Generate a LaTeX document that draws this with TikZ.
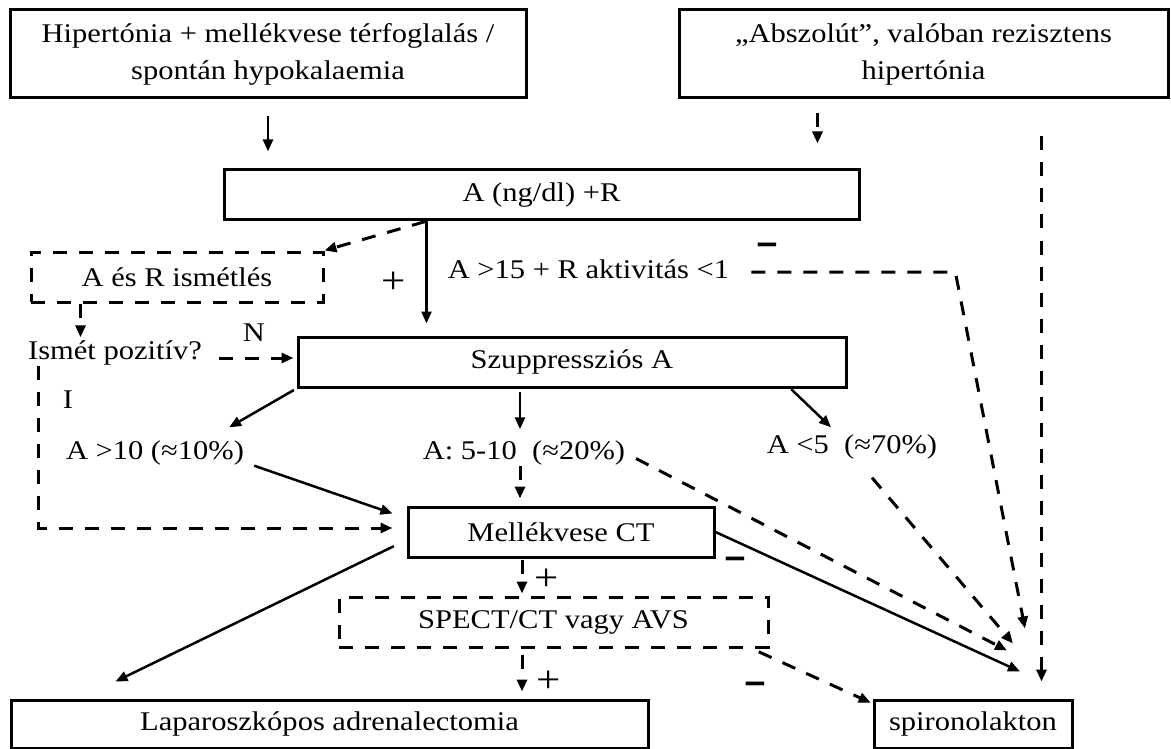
\documentclass[tikz,border=0pt]{standalone}
\usepackage{fontspec}
\setmainfont{Liberation Serif}[FakeStretch=1.13]
\newfontfamily\barfont{DejaVu Sans}[FakeStretch=1.35]
\usetikzlibrary{arrows.meta}

\begin{document}
\begin{tikzpicture}[x=1pt,y=-1pt,
  every node/.style={font=\fontsize{27}{37}\selectfont},
  box/.style={draw,line width=3pt,inner sep=0pt,align=center,minimum height=50pt},
  dbox/.style={box,dash pattern=on 14pt off 12pt},
  lbl/.style={inner sep=0pt,text height=19pt,text depth=6pt},
  sgn/.style={inner sep=0pt,font=\fontsize{38}{38}\selectfont},
  neg/.style={inner sep=0pt,font=\barfont\fontsize{22}{22}\selectfont},
  arr/.style={line width=2.5pt,-{Triangle[length=12pt,width=10pt]}},
  darr/.style={arr,line width=3pt,dash pattern=on 14pt off 12pt}]
  \useasboundingbox (0,0) rectangle (1171,749);
  \node[box,minimum width=516pt,minimum height=88pt] (hyper) at (268,54) {Hipertónia + mellékvese térfoglalás /\\spontán hypokalaemia};
  \node[box,minimum width=489pt,minimum height=88pt] (abszol) at (923.5,54) {„Abszolút”, valóban rezisztens\\hipertónia};
  \node[box,minimum width=635pt] (ar) at (541.5,195) {A (ng/dl) +R};
  \node[dbox,minimum width=292pt] (ism) at (177,277) {A és R ismétlés};
  \node[lbl] (ar15) at (588.5,272) {A >15 + R aktivitás <1};
  \node[lbl] (ismpoz) at (115,353) {Ismét pozitív?};
  \node[box,minimum width=548pt] (szupp) at (572,362) {Szuppressziós A};
  \node[lbl] (a10) at (155,453) {A >10 (≈10\%)};
  \node[lbl] (a510) at (524,453) {A: 5-10~~(≈20\%)};
  \node[lbl] (a5) at (852,447) {A <5~~(≈70\%)};
  \node[box,minimum width=306pt] (mct) at (561,532) {Mellékvese CT};
  \node[dbox,minimum width=429pt] (spect) at (553.5,622) {SPECT/CT vagy AVS};
  \node[box,minimum width=637pt,minimum height=48pt] (lap) at (329.5,724) {Laparoszkópos adrenalectomia};
  \node[box,minimum width=198pt,minimum height=48pt] (spiro) at (973,724) {spironolakton};

  \node[sgn] (plusa) at (394,283) {+};
  \node (nlbl) at (254,333) {N};
  \node (ilbl) at (68,400) {I};
  \node[neg] (minusa) at (767,248) {━};
  \node[neg] (minusb) at (735,562) {━};
  \node[sgn] (plusb) at (547,580) {+};
  \node[sgn] (plusc) at (549,682) {+};
  \node[neg] (minusc) at (755,687) {━};

  \draw[arr,shorten <=17pt,shorten >=17pt] (hyper.south) -- (hyper.south |- ar.north);
  \draw[darr,shorten <=14pt,shorten >=25pt] ([xshift=-43pt]ar.north east |- abszol.south) -- ([xshift=-43pt]ar.north east);
  \draw[darr,shorten <=37pt,shorten >=17pt] ([xshift=-32pt]spiro.north east |- abszol.south) -- ([xshift=-32pt]spiro.north east);
  \draw[darr] ([xshift=203pt]ar.south west) -- (ism.north east);
  \draw[arr,shorten >=12pt] ([xshift=204pt]ar.south west) -- ([xshift=204pt]ar.south west |- szupp.north);
  \draw[darr,shorten <=22pt] (ar15.east) -- ++(226,0) -- ([shift={(52pt,70pt)}]spiro.north);
  \draw[darr,shorten >=3pt] ([xshift=51pt]ism.south west) -- ([xshift=51pt]ism.south west |- ismpoz.north);
  \draw[darr,shorten <=17pt,shorten >=3pt] ([yshift=-5pt]ismpoz.east) -- ([yshift=-5pt]ismpoz.east -| szupp.west);
  \draw[darr,shorten >=14pt] ([xshift=11pt]ismpoz.south west) |- ([yshift=4pt]mct.west);
  \draw[arr,shorten <=3pt] (szupp.south west) -- ([shift={(-15pt,13pt)}]a10.north east);
  \draw[arr] ([xshift=10pt]a10.south east) -- ([shift={(-14pt,-8pt)}]mct.north west);
  \draw[arr,shorten <=3pt,shorten >=11pt] ([xshift=-52pt]szupp.south) -- ([xshift=-52pt]szupp.south |- a510.north);
  \draw[darr,shorten >=7pt] ([xshift=-41pt]mct.north |- a510.south) -- ([xshift=-41pt]mct.north);
  \draw[arr,shorten <=1pt] ([xshift=-57pt]szupp.south east) -- ([shift={(-21pt,7pt)}]a5.north);
  \draw[darr,shorten <=12pt] (a510.east) -- ([shift={(34pt,48pt)}]spiro.north);
  \draw[darr] ([shift={(20pt,-18pt)}]a5.south) -- ([shift={(40pt,55pt)}]spiro.north);
  \draw[arr] (mct.east) -- ([shift={(47pt,27pt)}]spiro.north);
  \draw[darr,shorten <=1pt,shorten >=2pt] ([xshift=-31.5pt]spect.north |- mct.south) -- ([xshift=-31.5pt]spect.north);
  \draw[darr,shorten <=6pt,shorten >=7pt] ([xshift=-31.5pt]spect.south) -- ([xshift=-31.5pt]spect.south |- lap.north);
  \draw[arr,shorten <=14pt] ([yshift=-8pt]mct.west) -- ([shift={(106pt,17pt)}]lap.north west);
  \draw[darr,shorten <=8pt,shorten >=2pt] ([xshift=-18pt]spect.south east) -- ([yshift=-5pt]spiro.north west);
\end{tikzpicture}
\end{document}
